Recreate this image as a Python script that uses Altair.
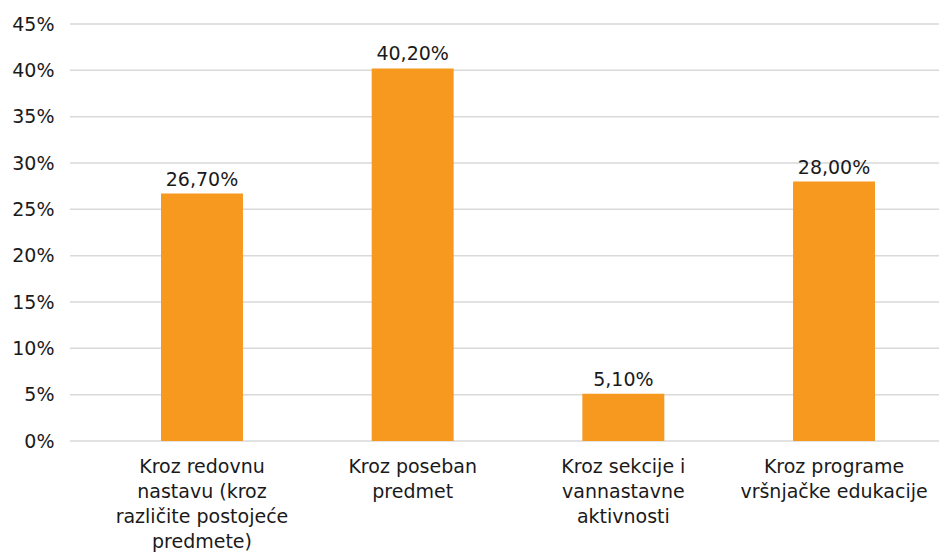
import altair as alt
import pandas as pd

categories = [
    "Kroz redovnu\nnastavu (kroz\nrazličite postojeće\npredmete)",
    "Kroz poseban\npredmet",
    "Kroz sekcije i\nvannastavne\naktivnosti",
    "Kroz programe\nvršnjačke edukacije",
]
values = [26.7, 40.2, 5.1, 28.0]
y_ticks = [0, 5, 10, 15, 20, 25, 30, 35, 40, 45]

df = pd.DataFrame({"cat": categories, "val": values})
grid_df = pd.DataFrame({"t": y_ticks})

FONT = "DejaVu Sans"
FS = 19
BAR = "#F7981F"
W = 869

x = alt.X(
    "cat:N",
    sort=categories,
    scale=alt.Scale(range=[91, 805], paddingInner=0.611, paddingOuter=0),
    axis=alt.Axis(
        title=None,
        labelAngle=0,
        labelExpr="split(datum.label, '\\n')",
        labelFontSize=FS,
        labelFont=FONT,
        labelColor="#1a1a1a",
        labelLineHeight=25,
        labelPadding=16,
        labelLimit=300,
        ticks=False,
        domain=False,
        grid=False,
    ),
)
yscale = alt.Scale(domain=[0, 45], nice=False)
yaxis = alt.Axis(
    title=None,
    values=y_ticks,
    labelExpr="datum.value + '%'",
    labelFontSize=FS,
    labelFont=FONT,
    labelColor="#1a1a1a",
    labelPadding=16,
    ticks=False,
    domain=False,
    grid=False,
)

grid = (
    alt.Chart(grid_df)
    .mark_rule(color="#d9d9d9", strokeWidth=1.5)
    .encode(y=alt.Y("t:Q", scale=yscale, axis=yaxis), x=alt.value(0), x2=alt.value(W))
)
bars = alt.Chart(df).mark_bar(color=BAR).encode(
    x=x, y=alt.Y("val:Q", scale=yscale, axis=yaxis)
)
labels = (
    alt.Chart(df)
    .transform_calculate(lbl="replace(format(datum.val, '.2f'), '.', ',') + '%'")
    .mark_text(dy=-14, fontSize=FS, font=FONT, color="#1a1a1a")
    .encode(x=x, y=alt.Y("val:Q", scale=yscale, axis=yaxis), text="lbl:N")
)

chart = (
    alt.layer(grid, bars, labels)
    .properties(
        width=W,
        height=417,
        autosize=alt.AutoSizeParams(type="none"),
        padding={"left": 62, "top": 16, "right": 0, "bottom": 111},
    )
    .configure_view(stroke=None)
)

chart.save("out.html", embed_options={"renderer": "svg", "actions": False})
